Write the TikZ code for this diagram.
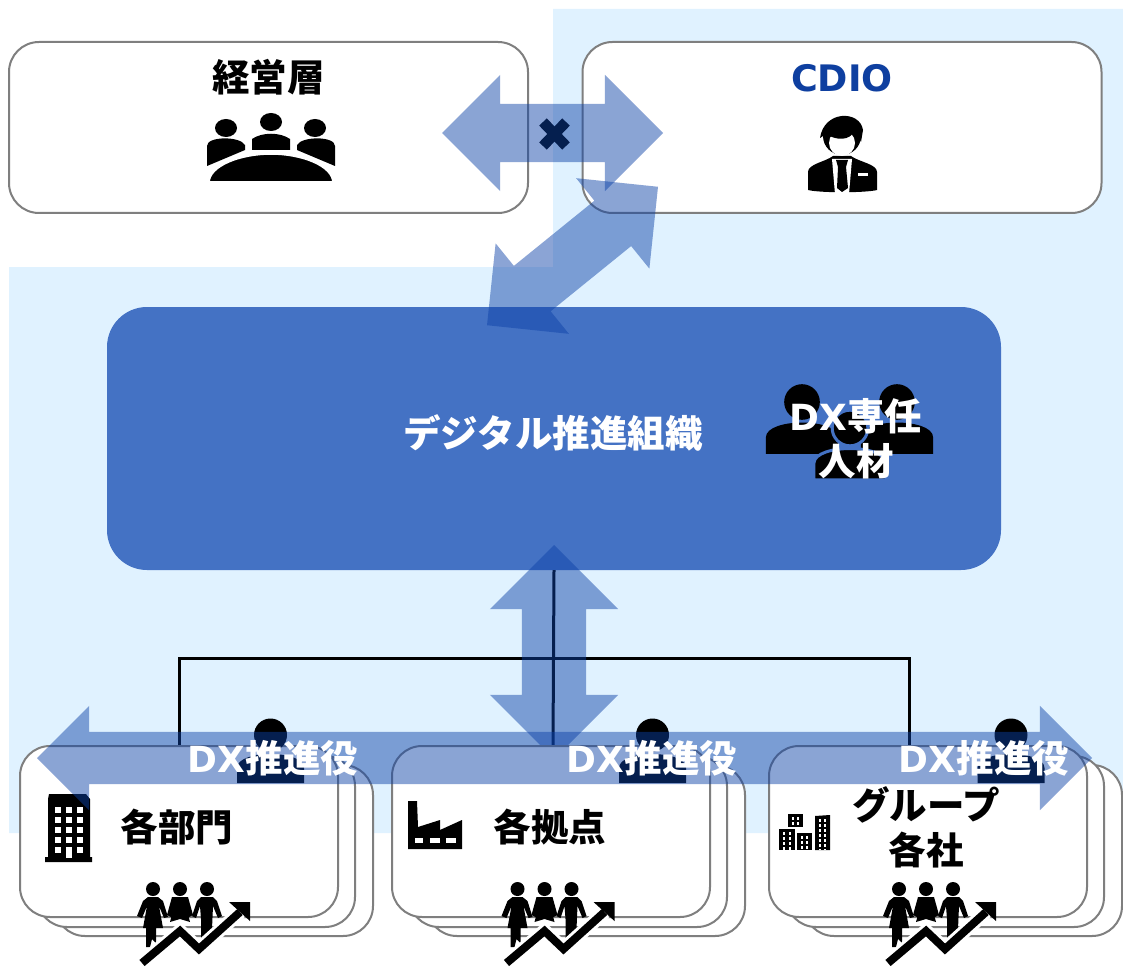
\documentclass[tikz,border=0pt]{standalone}
\usepackage{fontspec}
\usetikzlibrary{shapes.arrows, backgrounds}
\newfontfamily\jpfont{Noto Sans CJK JP}
\newfontfamily\dvfont{DejaVu Sans}
\definecolor{panelblue}{HTML}{E0F2FF}
\definecolor{mainblue}{HTML}{4472C4}
\definecolor{arrowblue}{HTML}{0C41A7}
\definecolor{cdioblue}{HTML}{0E3FA0}
\definecolor{boxgray}{HTML}{7F7F7F}

\begin{document}
\begin{tikzpicture}
[
    x = 1pt, y = -1pt,
    roundbox/.style = {draw = boxgray, line width = 2pt, fill = white, rounded corners = 30pt, inner sep = 0pt},
    topbox/.style = {roundbox, minimum width = 519pt, minimum height = 171pt},
    stackbox/.style = {roundbox, minimum width = 318pt, minimum height = 171pt},
    fatarrow/.style = {double arrow, fill = arrowblue, fill opacity = 0.48, inner xsep = 0pt, inner ysep = 29pt,
        double arrow head extend = 29pt, minimum height = 221pt},
    boxlabel/.style = {font = \jpfont\bfseries\fontsize{37.5}{45}\selectfont, align = center, inner sep = 0pt},
    whitelabel/.style = {boxlabel, text = white},
    treeline/.style = {line width = 3pt},
    windowrow/.style = {white, line width = 2pt, dash pattern = on 2.5pt off 2.5pt},
    pics/dxperson/.style = {code = {
        \filldraw[draw = #1, line width = 3pt] (0,0) circle (16.5);
        \filldraw[draw = #1, line width = 3pt] (-33.5,48) -- (-33.5,33) .. controls (-33.5,23) and (-15,19) .. (0,19)
            .. controls (15,19) and (33.5,23) .. (33.5,33) -- (33.5,48) -- cycle;
    }},
    pics/peopletrend/.style = {code = {
        \fill (-27,0) circle (7);
        \fill (0,0) circle (7);
        \fill (27,0) circle (7);
        \fill (-32,8) -- (-22,8) -- (-17,12) -- (-12,28) -- (-16,29) -- (-21,17) -- (-17,39) -- (-24,39) -- (-24,54)
            -- (-28,50) -- (-30,58) -- (-34,58) -- (-34,39) -- (-37,39) -- (-33,17) -- (-38,29) -- (-43,27) -- (-37,12) -- cycle;
        \fill (-8,8) -- (8,8) -- (13,26) -- (9,28) -- (6,18) -- (10,33) -- (0,30) -- (-10,33) -- (-6,18) -- (-9,28) -- (-13,26) -- cycle;
        \fill (21,8) -- (33,8) -- (37,12) -- (42,27) -- (38,29) -- (33,17) -- (32,40) -- (27,44) -- (27,48) -- (21,52)
            -- (21,30) -- (20,17) -- (16,29) -- (12,27) -- (17,12) -- cycle;
        \draw[white, line width = 14pt] (-38,74) -- (0,42) -- (19,60) -- (60,23);
        \draw[line width = 8pt] (-38,74) -- (0,42) -- (19,60) -- (60,23);
        \fill (49,13) -- (70,13) -- (70,32) -- cycle;
    }},
]
\useasboundingbox (0,0) rectangle (1123,968);
\begin{scope}[on background layer]
    \fill[panelblue] (9,267) -- (553,267) -- (553,9) -- (1123,9) -- (1123,833) -- (9,833) -- cycle;
    \node[fill = mainblue, rounded corners = 40pt, minimum width = 894pt, minimum height = 263pt, inner sep = 0pt] (dxorg) at (554,438.5) {};
\end{scope}

\node[topbox] (mgmt) at (268.5,127.5) {};
\node[topbox] (cdio) at (842,127.5) {};
\node[boxlabel] (mgmtlabel) at (268.5,77) {経営層};
\node[boxlabel, text = cdioblue, font = \dvfont\bfseries\fontsize{36.5}{45}\selectfont] (cdiolabel) at (842,78) {CDIO};

\fill (226,128) ellipse (11 and 9);
\fill (271,122) ellipse (11 and 9);
\fill (315,128) ellipse (11 and 9);
\fill (207,166) -- (207,146) .. controls (207,136) and (240,136) .. (245,145) -- (245,150) -- cycle;
\fill (252,150) -- (252,139) .. controls (262,132) and (280,132) .. (290,139) -- (290,150) -- cycle;
\fill (335,166) -- (335,146) .. controls (335,136) and (302,136) .. (297,145) -- (297,150) -- cycle;
\filldraw[draw = white, line width = 3.5pt] (208,183) .. controls (208,165) and (240,153) .. (271,153)
    .. controls (302,153) and (334,165) .. (334,183) -- cycle;

\fill (808,190) -- (808,172) .. controls (808,164) and (825,162) .. (833,156) -- (851,156)
    .. controls (859,162) and (877,164) .. (877,172) -- (877,190) .. controls (865,193) and (820,193) .. (808,190) -- cycle;
\fill[white] (832,159) -- (852,159) -- (849,194) -- (835,194) -- cycle;
\fill (836,160) -- (848,160) -- (846,167) -- (848,188) -- (842,192) -- (837,188) -- (838,167) -- cycle;
\fill[white] (858,173) rectangle (868,176);
\fill (842,136) circle (19);
\fill[white] (842,143) circle (13);
\fill (820,138) .. controls (824,110) and (860,110) .. (863,130) -- (861,142) -- (855,130) .. controls (850,142) and (835,140) .. (826,134) -- cycle;

\node[whitelabel] (dxorglabel) at (553,433) {デジタル推進組織};

\draw[black, line width = 10.5pt] (543,122) -- (566,146);
\draw[black, line width = 10.5pt] (566,122) -- (543,146);
\node[fatarrow] (mgmtcdioarrow) at (552.5,133) {};
\node[fatarrow, rotate = 39, minimum height = 220pt] (cdioorgarrow) at (572.5,256) {};

\pic[scale = 1.08] at (802,402) {dxperson = none};
\pic[scale = 1.08] at (897,402) {dxperson = none};
\pic[scale = 1.08] at (850,428) {dxperson = mainblue};
\node[whitelabel] (senninlabel) at (856,439) {{\dvfont\fontsize{36}{45}\selectfont DX}専任\\人材};

\coordinate (bus) at (554,658);
\node[stackbox] (deptback) at (214,850.5) {};
\node[stackbox] (deptmid) at (196,841.5) {};
\node[stackbox] (dept) at (179,831.5) {};
\node[stackbox] (siteback) at (586,850.5) {};
\node[stackbox] (sitemid) at (568,841.5) {};
\node[stackbox] (site) at (551,831.5) {};
\node[stackbox] (groupback) at (963,850.5) {};
\node[stackbox] (groupmid) at (945,841.5) {};
\node[stackbox] (group) at (928,831.5) {};

\begin{scope}[on background layer]
    \draw[treeline] (dxorg.south) -- ([xshift = 2pt]site.north);
    \draw[treeline] (dept.north) |- (bus) -| ([xshift = -19pt]group.north);
    \node[fatarrow, rotate = 90, inner ysep = 32pt, double arrow head extend = 32pt, minimum height = 214pt] (orgsitearrow) at (554,652) {};
\end{scope}

\node[boxlabel] (deptlabel) at (177,827) {各部門};
\node[boxlabel] (sitelabel) at (550,827) {各拠点};
\node[boxlabel] (grouplabel) at (926,827.5) {グループ\\各社};

\fill (49,794) -- (86,794) -- (90,799) -- (90,857) -- (92,857) -- (92,862) -- (45,862) -- (45,857) -- (48,857) -- (48,799) -- cycle;
\draw[white, line width = 6pt, dash pattern = on 5.5pt off 4.5pt] (58,807) -- (58,853);
\draw[white, line width = 6pt, dash pattern = on 5.5pt off 4.5pt] (69,807) -- (69,853);
\draw[white, line width = 6pt, dash pattern = on 5.5pt off 4.5pt] (80,807) -- (80,853);
\draw[white, line width = 6pt] (69,847) -- (69,858);

\fill (408,801) -- (417,801) -- (418,827) -- (440,820) -- (440,830) -- (462,820) -- (462,849) -- (408,849) -- cycle;
\fill[white] (415,838) rectangle (423,843);
\fill[white] (430,838) rectangle (440,843);
\fill[white] (446,838) rectangle (456,843);

\fill (788,814) rectangle (803,827);
\fill (779,829) rectangle (795,850);
\fill (797,833) rectangle (812,850);
\fill (815,816) -- (830,815) -- (830,850) -- (815,850) -- cycle;
\draw[windowrow] (793,817) -- (793,826);
\draw[windowrow] (798,817) -- (798,826);
\draw[windowrow] (784,832) -- (784,850);
\draw[windowrow] (790,832) -- (790,850);
\draw[windowrow] (802,836) -- (802,850);
\draw[windowrow] (807,836) -- (807,850);
\draw[windowrow] (820,819) -- (820,850);
\draw[windowrow] (825,819) -- (825,850);

\pic at (180,889) {peopletrend};
\pic at (544.5,889) {peopletrend};
\pic at (926,889) {peopletrend};

\pic at (270.5,735) {dxperson = none};
\pic at (652.5,735) {dxperson = none};
\pic at (1011,735) {dxperson = none};

\node[fatarrow, inner ysep = 26pt, double arrow head extend = 26pt, minimum height = 1055pt] (spanarrow) at (564.5,758) {};

\node[whitelabel] (deptdx) at (273,758) {{\dvfont\fontsize{36}{45}\selectfont DX}推進役};
\node[whitelabel] (sitedx) at (652,758) {{\dvfont\fontsize{36}{45}\selectfont DX}推進役};
\node[whitelabel] (groupdx) at (984,758) {{\dvfont\fontsize{36}{45}\selectfont DX}推進役};
\end{tikzpicture}
\end{document}
